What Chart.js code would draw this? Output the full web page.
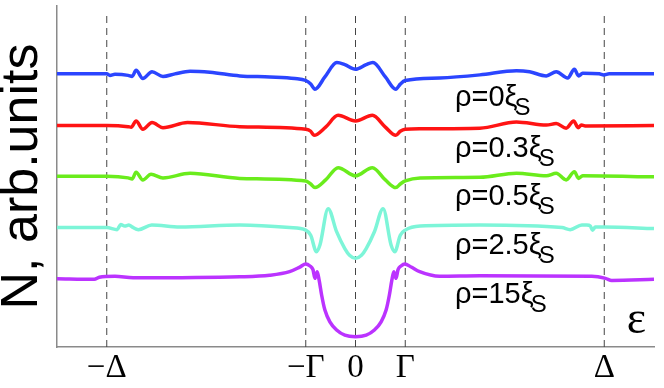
<!DOCTYPE html>
<html>
<head>
<meta charset="utf-8">
<script src="https://cdn.jsdelivr.net/npm/chart.js@4/dist/chart.umd.min.js"></script>
<style>
  html, body { margin: 0; padding: 0; background: #fff; }
  #box { width: 664px; height: 388px; }
</style>
</head>
<body>
<div id="box"><canvas id="dos" width="664" height="388"></canvas></div>
<script>
// energy in units of Delta, DOS in arb. units (curves shifted vertically)
const tickValues = [-1, -0.2, 0, 0.2, 1];
const tickLabels = ['\u2212\u0394', '\u2212\u0393', '0', '\u0393', '\u0394'];
const rhoLabels = ['0', '0.3', '0.5', '2.5', '15'];

const eps0 = [-1.2,-1.03,-1.0,-0.987,-0.967,-0.914,-0.898,-0.882,-0.855,-0.818,-0.774,-0.726,-0.665,-0.585,-0.465,-0.344,-0.244,-0.2,-0.18,-0.163,-0.123,-0.075,-0.043,0,0.043,0.07,0.12,0.162,0.18,0.2,0.339,0.5,0.647,0.7,0.767,0.807,0.853,0.88,0.897,0.913,0.98,0.998,1.02,1.2];
const dos0 = [5.33,5.33,5.33,5.30,5.32,5.30,5.28,5.40,5.24,5.37,5.28,5.33,5.38,5.36,5.29,5.27,5.24,5.20,5.13,5.03,5.27,5.55,5.51,5.42,5.51,5.55,5.27,5.03,5.13,5.20,5.25,5.31,5.39,5.37,5.29,5.37,5.25,5.42,5.29,5.34,5.33,5.31,5.33,5.33];

const eps03 = [-1.2,-1.0,-0.914,-0.902,-0.882,-0.855,-0.818,-0.774,-0.675,-0.465,-0.2,-0.18,-0.167,-0.12,-0.07,0,0.068,0.12,0.162,0.18,0.2,0.26,0.5,0.647,0.767,0.807,0.847,0.877,0.895,0.908,0.928,1.2];
const dos03 = [4.32,4.32,4.30,4.29,4.41,4.25,4.38,4.28,4.38,4.30,4.25,4.21,4.13,4.29,4.52,4.41,4.52,4.29,4.13,4.21,4.25,4.26,4.27,4.39,4.33,4.36,4.27,4.41,4.28,4.33,4.31,4.32];

const eps05 = [-1.2,-1.0,-0.914,-0.898,-0.882,-0.855,-0.822,-0.774,-0.665,-0.465,-0.2,-0.18,-0.163,-0.12,-0.07,0,0.068,0.12,0.162,0.18,0.2,0.26,0.5,0.647,0.767,0.807,0.847,0.88,0.897,0.913,1.2];
const dos05 = [3.33,3.33,3.30,3.28,3.41,3.26,3.37,3.30,3.39,3.29,3.24,3.18,3.11,3.26,3.50,3.34,3.50,3.26,3.11,3.18,3.24,3.30,3.31,3.39,3.34,3.39,3.26,3.42,3.29,3.34,3.32];

const eps25 = [-1.2,-1.0,-0.958,-0.944,-0.928,-0.911,-0.897,-0.873,-0.819,-0.706,-0.465,-0.265,-0.2,-0.18,-0.157,-0.143,-0.11,-0.076,-0.043,-0.024,0,0.024,0.043,0.076,0.111,0.143,0.158,0.18,0.2,0.26,0.5,0.83,0.863,0.91,0.93,0.944,0.953,0.964,1.0,1.2];
const dos25 = [2.33,2.33,2.29,2.39,2.36,2.38,2.34,2.29,2.38,2.34,2.38,2.33,2.28,2.18,1.86,1.99,2.70,2.25,1.92,1.79,1.73,1.79,1.92,2.25,2.70,1.99,1.86,2.18,2.28,2.36,2.38,2.33,2.29,2.38,2.38,2.36,2.28,2.34,2.34,2.31];

const eps15 = [-1.2,-1.05,-1.03,-0.967,-0.894,-0.465,-0.345,-0.265,-0.224,-0.2,-0.183,-0.171,-0.163,-0.154,-0.146,-0.136,-0.123,-0.103,-0.076,-0.043,0,0.043,0.076,0.103,0.123,0.136,0.146,0.154,0.163,0.171,0.183,0.198,0.224,0.258,0.338,0.5,0.95,1.005,1.03,1.2];
const dos15 = [1.33,1.32,1.36,1.38,1.35,1.37,1.40,1.47,1.56,1.62,1.58,1.51,1.34,1.47,1.30,1.01,0.72,0.49,0.33,0.23,0.20,0.23,0.33,0.49,0.72,1.01,1.30,1.47,1.34,1.51,1.58,1.62,1.56,1.47,1.38,1.39,1.38,1.34,1.30,1.32];

const pts = (xs, ys) => xs.map((x, i) => ({x: x, y: ys[i]}));

const curves = [
  {eps: eps0,  dos: dos0,  color: '#2b45ff'},
  {eps: eps03, dos: dos03, color: '#ff1414'},
  {eps: eps05, dos: dos05, color: '#6aec1c'},
  {eps: eps25, dos: dos25, color: '#7df5d8'},
  {eps: eps15, dos: dos15, color: '#bb33ff'}
];

const datasets = curves.map(c => ({
  data: pts(c.eps, c.dos),
  borderColor: c.color,
  borderWidth: 3.5,
  pointRadius: 0,
  cubicInterpolationMode: 'monotone',
  order: 0
}));

// dashed markers at the tick energies
tickValues.forEach(v => {
  datasets.push({
    data: [{x: v, y: 0}, {x: v, y: 6.5}],
    borderColor: '#444',
    borderWidth: 1,
    borderDash: [7, 5],
    pointRadius: 0,
    order: 10
  });
});

// where the rho labels sit (data coords)
const labelX = 0.40;
const labelY = [4.70, 3.71, 2.77, 1.82, 0.86];

const textPlugin = {
  id: 'rhoText',
  afterDatasetsDraw(chart) {
    const ctx = chart.ctx;
    const xs = chart.scales.x, ys = chart.scales.y;
    ctx.save();
    ctx.fillStyle = '#000';
    ctx.textBaseline = 'alphabetic';
    ctx.textAlign = 'left';
    rhoLabels.forEach((r, i) => {
      const px = xs.getPixelForValue(labelX);
      const py = ys.getPixelForValue(labelY[i]);
      ctx.font = '29px "Liberation Sans", Arial, sans-serif';
      const main = '\u03c1=' + r + '\u03be';
      ctx.fillText(main, px, py);
      const w = ctx.measureText(main).width;
      ctx.font = '24px "Liberation Sans", Arial, sans-serif';
      ctx.fillText('S', px + w - 3, py + 9);
    });
    ctx.font = '46px "Liberation Serif", serif';
    ctx.fillText('\u03b5', xs.getPixelForValue(1.09), ys.getPixelForValue(0.273));
    ctx.restore();
  }
};

new Chart(document.getElementById('dos'), {
  type: 'line',
  data: {datasets: datasets},
  options: {
    responsive: false,
    animation: false,
    devicePixelRatio: 1,
    layout: {padding: {top: 6, right: 10, left: 0, bottom: 0}},
    plugins: {legend: {display: false}, tooltip: {enabled: false}},
    scales: {
      x: {
        type: 'linear',
        min: -1.2,
        max: 1.2,
        afterFit: s => { s.height = 41; },
        afterBuildTicks: s => { s.ticks = tickValues.map(v => ({value: v})); },
        grid: {color: 'rgba(0,0,0,0)', drawTicks: false},
        border: {display: true, color: '#8a8a8a', width: 1.5},
        ticks: {
          autoSkip: false,
          maxRotation: 0,
          padding: 2,
          color: '#000',
          font: {family: '"Liberation Serif", serif', size: 33},
          callback: v => tickLabels[tickValues.indexOf(v)]
        }
      },
      y: {
        type: 'linear',
        min: 0,
        max: 6.654,
        afterFit: s => { s.width = 57; },
        grid: {color: 'rgba(0,0,0,0)', drawTicks: false},
        border: {display: true, color: '#8a8a8a', width: 1.5},
        ticks: {display: false},
        title: {
          display: true,
          text: 'N, arb.units',
          color: '#000',
          padding: {top: -3, bottom: 0},
          font: {family: '"Liberation Sans", Arial, sans-serif', size: 52, lineHeight: 1}
        }
      }
    }
  },
  plugins: [textPlugin]
});
</script>
</body>
</html>
